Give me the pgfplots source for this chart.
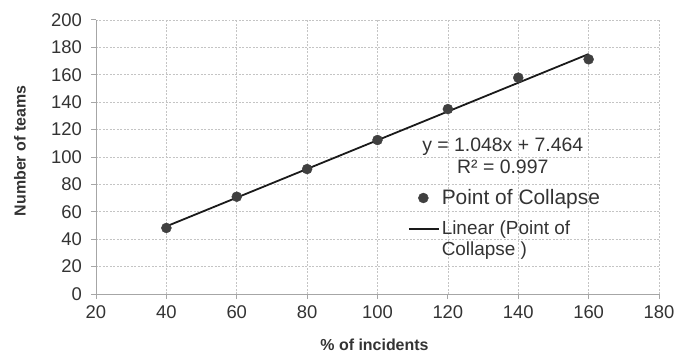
\documentclass[border=0pt]{standalone}
\usepackage{fontspec}
\setmainfont{Liberation Sans}
\usepackage{pgfplots}
\pgfplotsset{compat=1.18}
\definecolor{axisgray}{HTML}{A6A6A6}
\definecolor{gridgray}{HTML}{C4C4C4}
\definecolor{textgray}{HTML}{333333}
\definecolor{markgray}{HTML}{404040}
\definecolor{linecol}{HTML}{1A1A1A}
\pgfplotsset{
  dotlegend/.style={legend image code/.code={\draw[##1] plot coordinates {(14.5bp,0bp)};}},
  linelegend/.style={legend image code/.code={\draw[##1] (0bp,10bp) -- (30bp,10bp);}},
}
\begin{document}
\begin{tikzpicture}
\useasboundingbox (-96bp,-60bp) rectangle (578bp,294bp);
\begin{axis}[
  scale only axis, width=563bp, height=274bp,
  xmin=20, xmax=180, ymin=0, ymax=200,
  xtick={20,40,...,180}, ytick={0,20,...,200},
  xticklabels={20,40,60,80,100,120,140,160,180},
  yticklabels={0,20,40,60,80,100,120,140,160,180,200},
  axis lines=left,
  axis line style={draw=axisgray, line width=1pt, -},
  tick align=outside, major tick length=4.5bp,
  tick style={draw=axisgray, line width=1pt},
  grid=major,
  grid style={draw=gridgray, line width=0.7pt, dash pattern=on 2pt off 1.5pt},
  xticklabel style={font=\fontsize{18.5}{21}\selectfont, text=textgray, anchor=north, yshift=-4bp},
  yticklabel style={font=\fontsize{18.5}{21}\selectfont, text=textgray, anchor=east, xshift=-6bp},
  xlabel={\% of incidents},
  ylabel={Number of teams},
  xlabel style={font=\fontsize{16}{19}\selectfont\bfseries, text=textgray,
    at={(axis description cs:0.5,0)}, anchor=center, yshift=-51bp, xshift=-3bp},
  ylabel style={font=\fontsize{16}{19}\selectfont\bfseries, text=textgray,
    at={(axis description cs:0,0.5)}, anchor=center, yshift=76bp, xshift=6bp},
  legend style={at={(axis cs:108.6,76.3)}, anchor=north west, draw=none, fill=none,
    inner sep=0pt, nodes={inner sep=0pt, text=textgray}, column sep=2bp, row sep=14bp,
    cells={anchor=west, align=left}},
]
\addplot[only marks, mark=*, mark size=5bp, mark options={fill=markgray, draw=markgray}, dotlegend]
  coordinates {(40,48.2) (60,71) (80,91.2) (100,112.4) (120,135) (140,157.9) (160,171.3)};
\addlegendentry[font=\fontsize{21}{24}\selectfont]{Point of Collapse}
\addplot[linecol, line width=1.8bp, no marks, linelegend]
  coordinates {(40,49.384) (160,175.144)};
\addlegendentry[font=\fontsize{19}{22}\selectfont]{Linear (Point of\\Collapse )}
\node[align=center, font=\fontsize{19.5}{21.5}\selectfont, text=textgray, inner sep=0pt]
  at (axis cs:135.6,100.8) {y = 1.048x + 7.464\\R² = 0.997};
\end{axis}
\end{tikzpicture}
\end{document}
